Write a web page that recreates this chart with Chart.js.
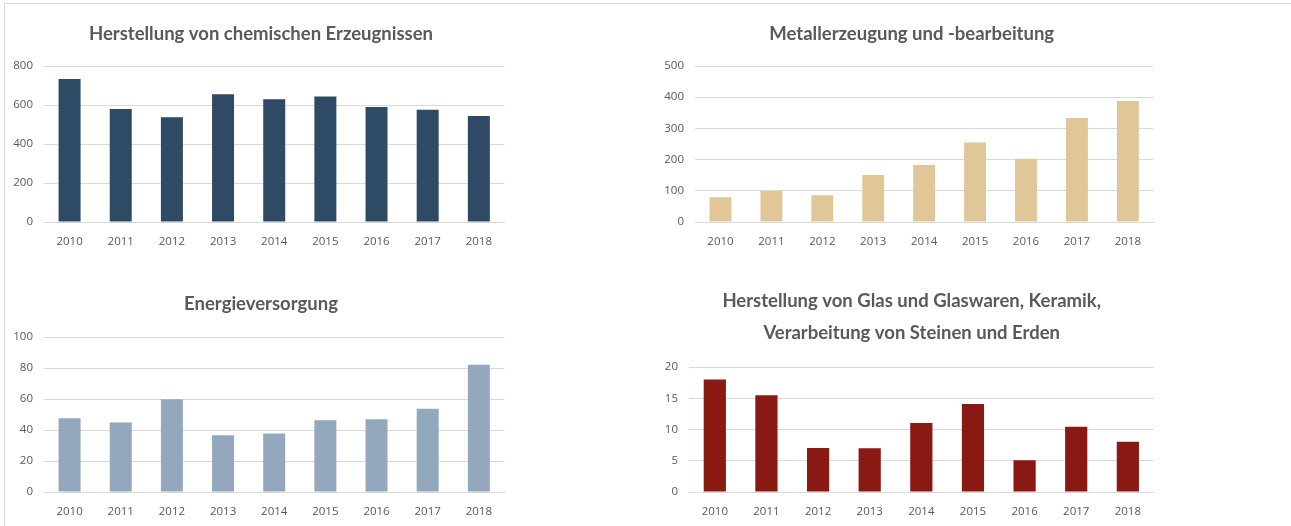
<!DOCTYPE html>
<html>
<head>
<meta charset="utf-8">
<script src="https://cdn.jsdelivr.net/npm/chart.js@4.4.1/dist/chart.umd.min.js"></script>
<style>
  html, body { margin: 0; padding: 0; background: #fff; }
  body { width: 1291px; height: 526px; position: relative; overflow: hidden; }
  .frame { position: absolute; left: 4px; top: 3px; right: 0; bottom: 0; border-top: 1px solid #dcdcdc; border-left: 1px solid #dcdcdc; }
  .box { position: absolute; }
</style>
</head>
<body>
<div class="frame"></div>
<div class="box" style="left:10px; top:4px; width:495px; height:252px;"><canvas id="c1"></canvas></div>
<div class="box" style="left:660px; top:4px; width:494px; height:252px;"><canvas id="c2"></canvas></div>
<div class="box" style="left:10px; top:266px; width:495px; height:260px;"><canvas id="c3"></canvas></div>
<div class="box" style="left:660px; top:266px; width:494px; height:260px;"><canvas id="c4"></canvas></div>

<script>
const years = ['2010', '2011', '2012', '2013', '2014', '2015', '2016', '2017', '2018'];

const chemie = [733, 579, 537, 655, 629, 644, 590, 576, 544];
const metall = [79, 99, 86, 151, 183, 255, 203, 333, 388];
const energie = [47.6, 44.8, 59.9, 36.6, 37.7, 46.3, 47, 53.7, 82.1];
const glas = [18, 15.5, 7.05, 7, 11.05, 14.1, 5.1, 10.45, 8.05];

const textColor = '#595959';
const gridColor = '#d9d9d9';

// nudges the title a few px right, excel centres it on the whole chart box
const titleShift = {
    id: 'titleShift',
    afterLayout(chart, args, opts) {
        const t = chart.titleBlock;
        if (t && opts.dx) {
            t.left += opts.dx;
            t.right += opts.dx;
        }
    }
};

function makeChart(id, title, values, color, yMax, yStep, axisWidth, titlePad, dx) {
    const ctx = document.getElementById(id);
    return new Chart(ctx, {
        type: 'bar',
        data: {
            labels: years,
            datasets: [{
                data: values,
                backgroundColor: color,
                borderWidth: 0,
                barPercentage: 0.43,
                categoryPercentage: 1
            }]
        },
        options: {
            responsive: true,
            maintainAspectRatio: false,
            animation: false,
            layout: { padding: { left: 0, right: 0, top: 0, bottom: 4 } },
            plugins: {
                legend: { display: false },
                tooltip: { enabled: false },
                titleShift: { dx: dx },
                title: {
                    display: true,
                    text: title,
                    color: textColor,
                    font: { family: 'Lato', size: 18.5, weight: 'bold', lineHeight: 1.73 },
                    padding: titlePad
                }
            },
            scales: {
                x: {
                    grid: { display: false, drawTicks: false },
                    border: { display: true, color: gridColor, width: 1 },
                    ticks: { color: textColor, font: { family: 'Open Sans', size: 11.5 }, padding: 13, maxRotation: 0 },
                    afterFit: function (scale) { scale.height = 30; }
                },
                y: {
                    min: 0,
                    max: yMax,
                    grid: { color: gridColor, drawTicks: false, lineWidth: 1 },
                    border: { display: false },
                    ticks: { stepSize: yStep, color: textColor, font: { family: 'Open Sans', size: 11.5 }, padding: 11 },
                    afterFit: function (scale) { scale.width = axisWidth; }
                }
            }
        },
        plugins: [titleShift]
    });
}

makeChart('c1', 'Herstellung von chemischen Erzeugnissen', chemie, '#2e4a65', 800, 200, 34, { top: 14, bottom: 16 }, 3.5);
makeChart('c2', 'Metallerzeugung und -bearbeitung', metall, '#e1c698', 500, 100, 35, { top: 14, bottom: 16 }, 4.7);
makeChart('c3', 'Energieversorgung', energie, '#93a8bd', 100, 20, 34, { top: 22, bottom: 17 }, 3.5);
makeChart('c4', ['Herstellung von Glas und Glaswaren, Keramik,', 'Verarbeitung von Steinen und Erden'], glas, '#8a1813', 20, 5, 29, { top: 19, bottom: 18 }, 4.7);
</script>
</body>
</html>
